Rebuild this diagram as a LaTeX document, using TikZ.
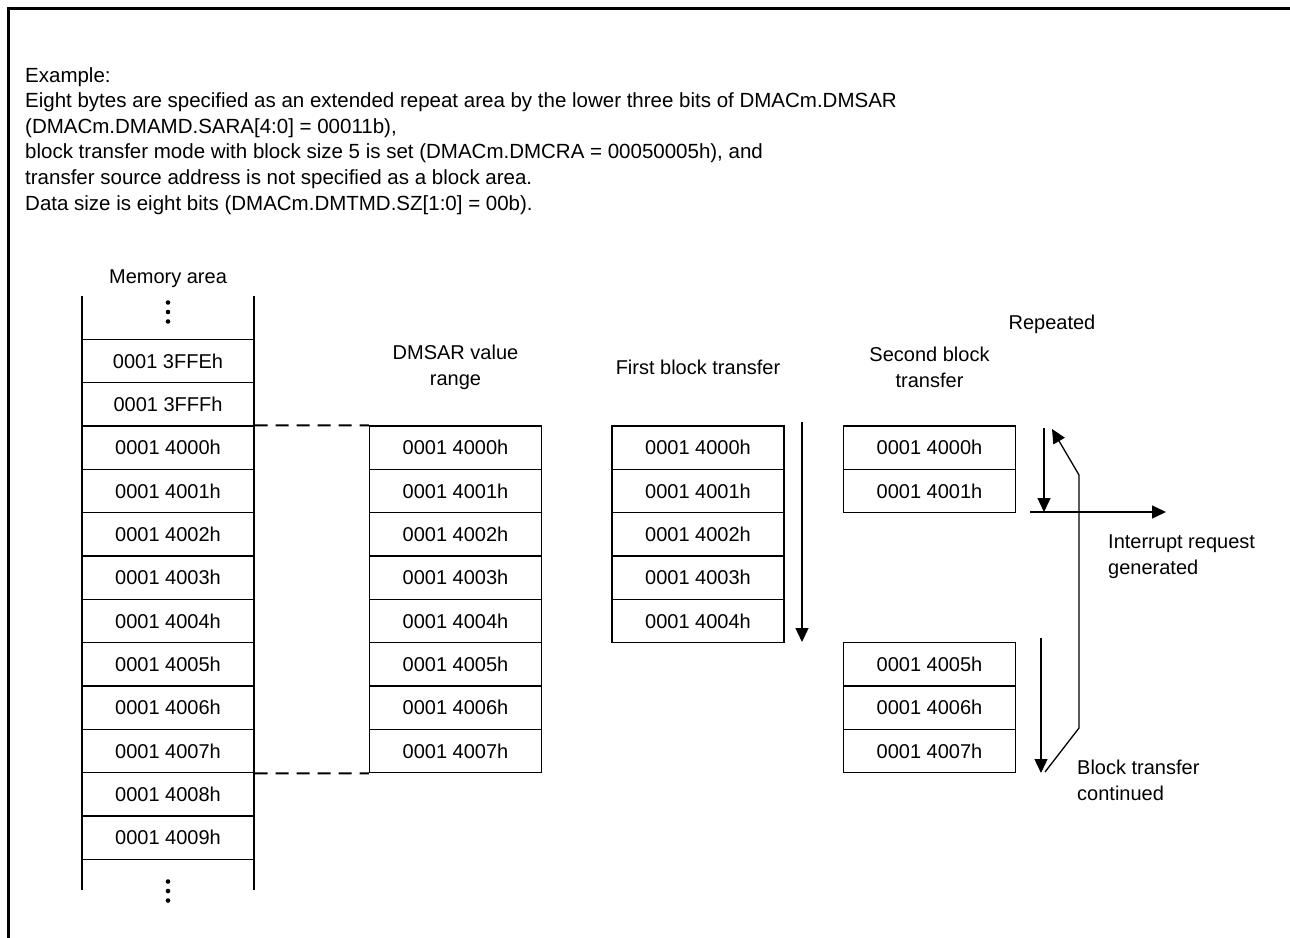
\documentclass[tikz,border=0pt]{standalone}
\usepackage{fontspec}
\setmainfont{Liberation Sans}
\usetikzlibrary{arrows.meta,positioning}

\begin{document}
\begin{tikzpicture}[
  x=1pt,y=-1pt,
  font=\fontsize{20}{25.6}\selectfont,
  cell/.style={draw,line width=1.3pt,minimum width=172pt,minimum height=43.33pt,inner sep=0pt},
  memwall/.style={line width=2.6pt},
  dashlink/.style={line width=2pt,dash pattern=on 13pt off 8pt},
  arr/.style={-{Triangle[length=14pt,width=13pt]},line width=1.3pt},
  lbl/.style={align=center,inner sep=0pt},
  note/.style={align=left,inner sep=0pt,anchor=north west}
]
\useasboundingbox (0,0) rectangle (1290,937);
\draw[line width=3pt] (8.5,945) -- (8.5,8.5) -- (1295,8.5);

\node[note,font=\fontsize{20.5}{25.6}\selectfont] (intro) at (25,67) {Example:\\
Eight bytes are specified as an extended repeat area by the lower three bits of DMACm.DMSAR\\
(DMACm.DMAMD.SARA[4:0] = 00011b),\\
block transfer mode with block size 5 is set (DMACm.DMCRA = 00050005h), and\\
transfer source address is not specified as a block area.\\
Data size is eight bits (DMACm.DMTMD.SZ[1:0] = 00b).};

% memory area
\node[lbl] (memhead) at (168,279) {Memory area};
\foreach \lab [count=\i] in {3FFE,3FFF,4000,4001,4002,4003,4004,4005,4006,4007,4008,4009}
  \node[cell] (mem\i) at (168,{361+43.33*(\i-1)}) {0001 \lab h};
\coordinate (memtop) at (168,312);
\coordinate (membot) at (168,891);
\foreach \d in {-9.5,0,9.5} {
  \fill (memtop) ++(0,\d) circle (2.3pt);
  \fill (membot) ++(0,\d) circle (2.3pt);
}
\draw[memwall] (82,296) -- (82,890);
\draw[memwall] (254,296) -- (254,890);

% DMSAR range
\node[lbl] (sarhead) at (455.5,367.5) {DMSAR value\\range};
\foreach \lab [count=\i] in {4000,4001,4002,4003,4004,4005,4006,4007}
  \node[cell] (sar\i) at (455.5,{447.7+43.33*(\i-1)}) {0001 \lab h};
\draw[dashlink] (mem3.north east) -- (sar1.north west);
\draw[dashlink] (mem10.south east) -- (sar8.south west);

% first block
\node[lbl] (fbhead) at (698,367) {First block transfer};
\foreach \lab [count=\i] in {4000,4001,4002,4003,4004}
  \node[cell] (fb\i) at (698,{447.7+43.33*(\i-1)}) {0001 \lab h};
\coordinate (fbstart) at (802,422);
\coordinate (fbend) at (802,642);
\draw[arr] (fbstart) -- (fbend);

% second block
\node[lbl] (sbhead) at (929.5,367.5) {Second block\\transfer};
\foreach \lab/\r in {4000/1,4001/2,4005/6,4006/7,4007/8}
  \node[cell] (sb\r) at (929.5,{447.7+43.33*(\r-1)}) {0001 \lab h};

% repeat loop
\node[lbl] (rephead) at (1052,324) {Repeated};
\coordinate (irqtop) at (1044,428);
\coordinate (irqpt) at (1044,512);
\coordinate (irqleft) at (1030,512);
\coordinate (irqright) at (1166,512);
\coordinate (contbot) at (1045,772);
\coordinate (bendlow) at (1079,728);
\coordinate (bendhigh) at (1079,475);
\coordinate (reptip) at (1052,429);
\coordinate (sbdown) at (1041,638);
\coordinate (sbend) at (1041,773);
\draw[arr] (irqtop) -- (irqpt);
\draw[arr] (irqleft) -- (irqright);
\draw[arr] (contbot) -- (bendlow) -- (bendhigh) -- (reptip);
\draw[arr] (sbdown) -- (sbend);
\node[note] (irq) at (1108,535) {Interrupt request\\generated};
\node[note] (cont) at (1077,760) {Block transfer\\continued};
\end{tikzpicture}
\end{document}
